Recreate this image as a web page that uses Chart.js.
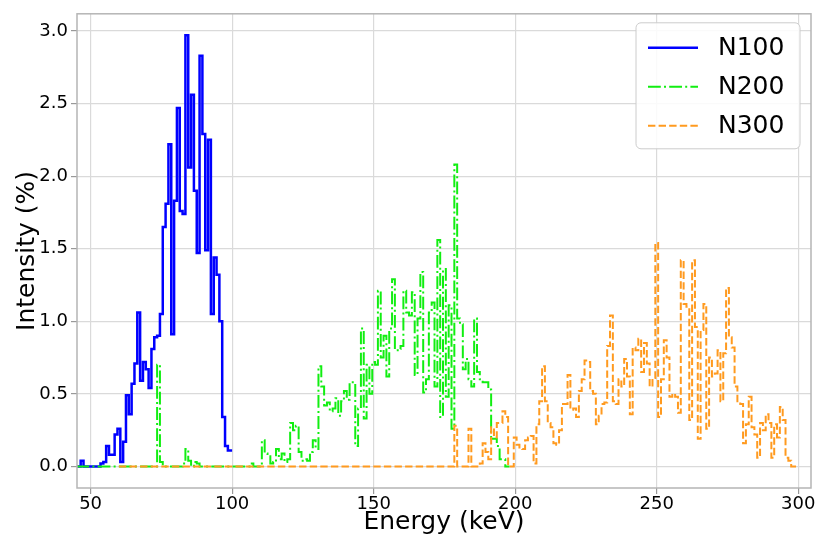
<!DOCTYPE html>
<html>
<head>
<meta charset="utf-8">
<script src="https://cdn.jsdelivr.net/npm/chart.js@4.4.1/dist/chart.umd.min.js"></script>
<style>
  html, body { margin: 0; padding: 0; background: #fff; }
  #wrap { width: 817px; height: 541px; }
</style>
</head>
<body>
<div id="wrap"><canvas id="spectrumChart"></canvas></div>
<script>
// Spectra in 1 keV bins (intensity in %)
const seriesNames = ['N100', 'N200', 'N300'];

// N100: bins from 45 keV
const n100Start = 45;
const n100Values = [
    0, 0, 0.04, 0, 0, 0, 0, 0, 0, 0.02,
    0.03, 0.14, 0.08, 0.08, 0.22, 0.26, 0.03, 0.17, 0.49, 0.36,
    0.57, 0.71, 1.06, 0.59, 0.72, 0.67, 0.54, 0.81, 0.89, 0.90,
    1.05, 1.65, 1.81, 2.22, 0.91, 1.83, 2.47, 1.76, 1.74, 2.97,
    2.06, 2.56, 1.90, 1.47, 2.83, 2.29, 1.49, 2.25, 1.05, 1.44,
    1.32, 1.00, 0.34, 0.14, 0.11, 0.11
];

// N200: flat zero from 45 keV, bins listed from 73 keV
const n200Baseline = 45;
const n200Start = 73;
const n200Values = [
    0, 0.70, 0.03, 0, 0, 0, 0, 0, 0, 0,
    0.02, 0.12, 0.04, 0, 0.03, 0.02, 0, 0, 0, 0,
    0, 0, 0, 0, 0, 0, 0, 0, 0, 0,
    0, 0, 0, 0, 0.02, 0, 0, 0, 0.18, 0.09,
    0.07, 0.02, 0.03, 0.12, 0.05, 0.09, 0.03, 0.05, 0.30, 0.25,
    0.28, 0.10, 0.04, 0.05, 0.04, 0.10, 0.18, 0.12, 0.69, 0.55,
    0.42, 0.44, 0.38, 0.40, 0.47, 0.35, 0.45, 0.52, 0.46, 0.58,
    0.58, 0.14, 0.40, 0.95, 0.33, 0.70, 0.50, 0.72, 0.70, 1.21,
    0.75, 0.90, 0.62, 0.95, 1.29, 0.80, 0.81, 0.83, 1.21, 1.06,
    1.04, 1.20, 0.63, 1.02, 1.34, 0.51, 0.60, 1.06, 1.13, 0.55,
    1.56, 0.34, 1.36, 0.48, 1.11, 0.26, 2.08, 1.02, 0.98, 0.67,
    0.74, 0.60, 0.55, 1.02, 0.65, 0.60, 0.58, 0.58, 0.53, 0.19,
    0.19, 0.14, 0.05, 0.05, 0, 0
];

// N300: flat zero from 60 keV, bins listed from 178 keV
const n300Baseline = 60;
const n300Start = 178;
const n300Values = [
    0, 0.28, 0, 0, 0, 0, 0.26, 0, 0, 0,
    0.02, 0.16, 0.10, 0.05, 0.27, 0.20, 0.30, 0.30, 0.38, 0.34,
    0, 0, 0.20, 0.15, 0.13, 0.12, 0.18, 0.20, 0.21, 0.02,
    0.29, 0.45, 0.69, 0.45, 0.30, 0.27, 0.16, 0.15, 0.25, 0.43,
    0.43, 0.63, 0.39, 0.40, 0.34, 0.52, 0.60, 0.73, 0.72, 0.52,
    0.50, 0.29, 0.35, 0.43, 0.44, 0.83, 1.04, 0.45, 0.43, 0.60,
    0.55, 0.74, 0.62, 0.36, 0.82, 0.80, 0.88, 0.65, 0.85, 0.71,
    0.55, 0.61, 1.54, 0.34, 0.60, 0.87, 0.75, 0.48, 0.50, 0.48,
    0.37, 1.42, 1.12, 1.10, 0.32, 1.42, 0.96, 0.19, 0.94, 1.12,
    0.26, 0.75, 0.62, 0.64, 0.80, 0.45, 0.78, 1.23, 0.89, 0.82,
    0.55, 0.45, 0.43, 0.16, 0.29, 0.48, 0.27, 0.22, 0.06, 0.30,
    0.25, 0.36, 0.30, 0.06, 0.29, 0.20, 0.41, 0.32, 0.06, 0.04,
    0, 0, 0
];

const xTicks = [50, 100, 150, 200, 250, 300];
const yTicks = [0, 0.5, 1.0, 1.5, 2.0, 2.5, 3.0];

const FONT = "'DejaVu Sans', sans-serif";

function toPoints(baseline, start, values) {
    const pts = [];
    if (baseline < start) pts.push({ x: baseline, y: 0 });
    values.forEach((v, i) => pts.push({ x: start + i, y: v }));
    return pts;
}

// frame round the plot area (matplotlib spines)
const framePlugin = {
    id: 'frame',
    afterDatasetsDraw(chart) {
        const { ctx, chartArea: a } = chart;
        ctx.save();
        ctx.strokeStyle = '#b5b5b5';
        ctx.lineWidth = 1.5;
        ctx.strokeRect(a.left, a.top, a.right - a.left, a.bottom - a.top);
        ctx.restore();
    }
};

// boxed legend inside the upper right corner
const boxLegendPlugin = {
    id: 'boxLegend',
    afterDraw(chart) {
        const { ctx, chartArea: a } = chart;
        const w = 164, h = 126;
        const x0 = a.right - 11 - w, y0 = a.top + 9;
        ctx.save();
        ctx.beginPath();
        ctx.roundRect(x0, y0, w, h, 5);
        ctx.fillStyle = 'rgba(255,255,255,0.85)';
        ctx.fill();
        ctx.strokeStyle = '#cccccc';
        ctx.lineWidth = 1;
        ctx.stroke();
        chart.data.datasets.forEach((ds, i) => {
            const y = y0 + 25 + i * 39;
            ctx.beginPath();
            ctx.setLineDash(ds.borderDash || []);
            ctx.strokeStyle = ds.borderColor;
            ctx.lineWidth = ds.borderWidth;
            ctx.moveTo(x0 + 12, y);
            ctx.lineTo(x0 + 62, y);
            ctx.stroke();
            ctx.setLineDash([]);
            ctx.fillStyle = '#000';
            ctx.font = '25px ' + FONT;
            ctx.textBaseline = 'middle';
            ctx.fillText(ds.label, x0 + 82, y + 1);
        });
        ctx.restore();
    }
};

function initSpectrumChart() {
    const ctx = document.getElementById('spectrumChart').getContext('2d');
    new Chart(ctx, {
        type: 'line',
        data: {
            datasets: [{
                label: seriesNames[0],
                data: toPoints(n100Start, n100Start, n100Values),
                borderColor: '#0000ff',
                borderWidth: 2.5,
                borderDash: [],
                order: 2
            }, {
                label: seriesNames[1],
                data: toPoints(n200Baseline, n200Start, n200Values),
                borderColor: '#11ee11',
                borderWidth: 2,
                borderDash: [12.8, 3.2, 2, 3.2],
                order: 1
            }, {
                label: seriesNames[2],
                data: toPoints(n300Baseline, n300Start, n300Values),
                borderColor: '#ff9a1f',
                borderWidth: 2,
                borderDash: [7.4, 3.2],
                order: 0
            }]
        },
        options: {
            responsive: true,
            maintainAspectRatio: false,
            animation: false,
            layout: { padding: { left: 0, right: 6, top: 13, bottom: 0 } },
            elements: {
                point: { radius: 0 },
                line: { stepped: 'middle', tension: 0, fill: false }
            },
            plugins: {
                legend: { display: false },
                tooltip: { enabled: false }
            },
            scales: {
                x: {
                    type: 'linear',
                    min: 45.2,
                    max: 304.5,
                    afterFit: (s) => { s.height = 53; },
                    afterBuildTicks: (s) => { s.ticks = xTicks.map(v => ({ value: v })); },
                    ticks: {
                        color: '#000',
                        padding: 0,
                        maxRotation: 0,
                        font: { family: FONT, size: 18 },
                        callback: (v) => String(v)
                    },
                    grid: { color: '#dadada', lineWidth: 1.2, tickColor: '#999', tickLength: 6 },
                    border: { display: false },
                    title: {
                        display: true,
                        text: 'Energy (keV)',
                        color: '#000',
                        font: { family: FONT, size: 25 },
                        padding: { top: 0, bottom: 4 }
                    }
                },
                y: {
                    min: -0.1485,
                    max: 3.1185,
                    afterFit: (s) => { s.width = 77; },
                    afterBuildTicks: (s) => { s.ticks = yTicks.map(v => ({ value: v })); },
                    ticks: {
                        color: '#000',
                        padding: 3,
                        font: { family: FONT, size: 18 },
                        callback: (v) => Number(v).toFixed(1)
                    },
                    grid: { color: '#dadada', lineWidth: 1.2, tickColor: '#999', tickLength: 6 },
                    border: { display: false },
                    title: {
                        display: true,
                        text: 'Intensity (%)',
                        color: '#000',
                        font: { family: FONT, size: 25 },
                        padding: { top: 12, bottom: 0 }
                    }
                }
            }
        },
        plugins: [framePlugin, boxLegendPlugin]
    });
}

document.addEventListener('DOMContentLoaded', () => {
    initSpectrumChart();
});
</script>
</body>
</html>
